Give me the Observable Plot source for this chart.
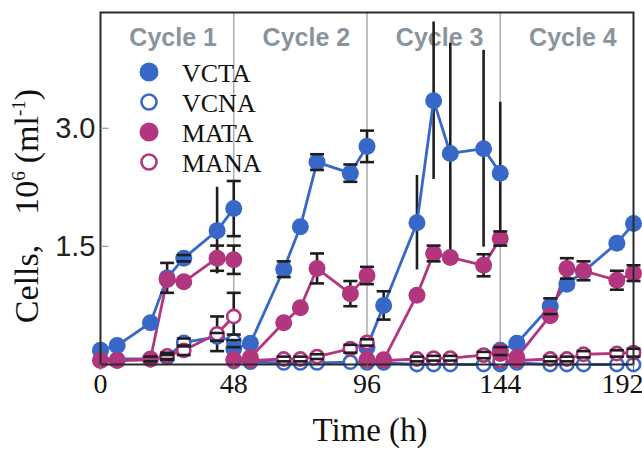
<!DOCTYPE html>
<html><head><meta charset="utf-8">
<script src="https://cdn.jsdelivr.net/npm/d3@7"></script>
<script src="https://cdn.jsdelivr.net/npm/@observablehq/plot@0.6"></script>
<style>body{margin:0;background:#fff;} #chart{width:642px;height:450px;}</style>
</head><body><div id="chart"></div>
<script>
// ---- data ----
const cycleNames = ["Cycle 1", "Cycle 2", "Cycle 3", "Cycle 4"];
const cycleMidpoints = [24, 72, 120, 168];
const cycleBoundaries = [48, 96, 144];
const xTicks = [0, 48, 96, 144, 192];
const yTicks = [1.5, 3.0];
const cycleTimes = [
  [0, 6, 18, 24, 30, 42, 48],
  [48, 54, 66, 72, 78, 90, 96],
  [96, 102, 114, 120, 126, 138, 144],
  [144, 150, 162, 168, 174, 186, 192]
];
const vcta = [
  [0.18, 0.24, 0.53, 1.10, 1.35, 1.70, 1.98],
  [0.20, 0.27, 1.21, 1.75, 2.57, 2.43, 2.77],
  [0.22, 0.75, 1.80, 3.35, 2.68, 2.74, 2.43],
  [0.18, 0.27, 0.74, 1.02, 1.18, 1.54, 1.79]
];
const vctaErr = [
  [0, 0, 0, 0.19, 0.04, 0.55, 0.35],
  [0, 0, 0.10, 0, 0.10, 0.11, 0.20],
  [0, 0.18, 0.60, 1.00, 1.40, 1.25, 0.90],
  [0, 0, 0.10, 0, 0, 0, 0]
];
const vcna = [
  [0.07, 0.07, 0.07, 0.09, 0.28, 0.35, 0.30],
  [0.04, 0.03, 0.02, 0.02, 0.02, 0.03, 0.03],
  [0.02, 0.02, 0.0, 0.0, 0.0, 0.0, 0.0],
  [0.02, 0.02, 0.0, 0.0, 0.0, 0.0, 0.0]
];
const vcnaErr = [
  [0, 0, 0, 0.03, 0.05, 0.05, 0.08],
  [0, 0, 0, 0, 0, 0, 0],
  [0, 0, 0, 0, 0, 0, 0],
  [0, 0, 0, 0, 0, 0, 0]
];
const mata = [
  [0.05, 0.05, 0.07, 1.08, 1.05, 1.35, 1.33],
  [0.06, 0.09, 0.53, 0.72, 1.22, 0.90, 1.13],
  [0.06, 0.06, 0.88, 1.41, 1.36, 1.26, 1.60],
  [0.14, 0.09, 0.62, 1.22, 1.19, 1.07, 1.16]
];
const mataErr = [
  [0, 0, 0.03, 0, 0, 0.16, 0.18],
  [0, 0, 0, 0, 0.19, 0.16, 0.11],
  [0, 0, 0, 0.10, 0, 0.14, 0.09],
  [0, 0, 0, 0.13, 0.12, 0.12, 0.10]
];
const mana = [
  [0.05, 0.05, 0.06, 0.11, 0.18, 0.39, 0.61],
  [0.05, 0.05, 0.07, 0.07, 0.10, 0.20, 0.28],
  [0.05, 0.05, 0.07, 0.08, 0.08, 0.12, 0.17],
  [0.05, 0.05, 0.07, 0.07, 0.13, 0.14, 0.15]
];
const manaErr = [
  [0, 0, 0, 0.04, 0.06, 0.22, 0.30],
  [0, 0, 0.03, 0.03, 0.03, 0.05, 0.04],
  [0, 0, 0.03, 0.03, 0.03, 0.04, 0.05],
  [0, 0, 0.03, 0.03, 0.04, 0.04, 0.05]
];

const BLUE = "#3768c8";
const MAGENTA = "#b2367e";

const seriesDefs = [
  {name: "VCNA", values: vcna, errs: vcnaErr, color: BLUE, filled: false},
  {name: "VCTA", values: vcta, errs: vctaErr, color: BLUE, filled: true},
  {name: "MANA", values: mana, errs: manaErr, color: MAGENTA, filled: false},
  {name: "MATA", values: mata, errs: mataErr, color: MAGENTA, filled: true}
];
const legendOrder = ["VCTA", "VCNA", "MATA", "MANA"];

function rowsOf(s) {
  const out = [];
  s.values.forEach((vals, c) => vals.forEach((v, i) => out.push({
    series: s.name, key: s.name + c, t: cycleTimes[c][i], v, e: s.errs[c][i]
  })));
  return out;
}
const allRows = seriesDefs.flatMap(rowsOf);
const errRows = allRows.filter(d => d.e > 0);
const capRows = errRows.filter(d => d.e < 0.5).flatMap(d => [{t: d.t, y: d.v - d.e}, {t: d.t, y: d.v + d.e}]);

const capSymbol = {draw(ctx, size) { const r = Math.sqrt(size / Math.PI); ctx.moveTo(-r, 0); ctx.lineTo(r, 0); }};
const inTick = {draw(ctx, size) { const r = Math.sqrt(size / Math.PI); ctx.moveTo(0, 0); ctx.lineTo(r, 0); }};

const serif = "Liberation Serif, Times New Roman, serif";
const lastTick = xTicks[xTicks.length - 1];

const marks = [
  Plot.ruleX(cycleBoundaries, {stroke: "#b0b0b0", strokeWidth: 1.6}),
  Plot.text(cycleNames, {x: (d, i) => cycleMidpoints[i], frameAnchor: "top", dy: 16, dx: 6,
    fontSize: 25, fontWeight: "bold", fontFamily: "Liberation Sans, Arial, sans-serif", fill: "#8a949e"}),
  Plot.ruleX(errRows, {x: "t", y1: d => d.v - d.e, y2: d => d.v + d.e, stroke: "#1e1e1e", strokeWidth: 2.6}),
];
for (const s of seriesDefs) {
  marks.push(Plot.line(rowsOf(s), {x: "t", y: "v", z: "key", stroke: s.color, strokeWidth: 2.8}));
}
for (const s of seriesDefs) {
  if (s.filled) marks.push(Plot.dot(rowsOf(s), {x: "t", y: "v", r: 8.5, fill: s.color, stroke: "none"}));
  else marks.push(Plot.dot(rowsOf(s), {x: "t", y: "v", r: 6.6, fill: "white", stroke: s.color, strokeWidth: 2.6}));
}
marks.push(Plot.dot(capRows, {x: "t", y: "y", symbol: capSymbol, r: 7, stroke: "#1e1e1e", strokeWidth: 2.6}));
marks.push(Plot.frame({stroke: "#2a2a2a", strokeWidth: 2}));
marks.push(Plot.dot(yTicks, {x: 0, y: d => d, symbol: inTick, r: 8, stroke: "#999", strokeWidth: 1.2}));
marks.push(Plot.axisY({ticks: yTicks, tickSize: 0, tickPadding: 5, tickFormat: d => d.toFixed(1),
  fontSize: 29, fontFamily: "Liberation Sans Narrow, Arial Narrow, Liberation Sans, sans-serif", fill: "#222", label: null}));
marks.push(Plot.axisX({ticks: xTicks, tickSize: 6, tickPadding: 3, stroke: "#777",
  tickFormat: d => d === lastTick ? "" : String(d),
  fontSize: 28, fontFamily: serif, fill: "#111", label: null}));
marks.push(Plot.text([lastTick], {x: d => d, frameAnchor: "bottom", dy: 9, dx: -11, lineAnchor: "top",
  fontSize: 28, fontFamily: serif, fill: "#111"}));

const chart = Plot.plot({
  width: 642, height: 450,
  marginLeft: 100, marginRight: 9, marginTop: 12, marginBottom: 86,
  x: {domain: [0, 192]},
  y: {domain: [0, 4.47]},
  style: {background: "white", overflow: "visible"},
  marks
});
document.getElementById("chart").appendChild(chart);

const svg = d3.select(chart);
// x title
svg.append("text").attr("x", 370).attr("y", 441).attr("text-anchor", "middle")
  .attr("font-family", serif).attr("font-size", 33).attr("fill", "#111")
  .text("Time (h)");
// y title
const yt = svg.append("text").attr("transform", "translate(38,206) rotate(-90)").attr("text-anchor", "middle")
  .attr("font-family", serif).attr("font-size", 34).attr("fill", "#111");
yt.append("tspan").text("Cells,");
yt.append("tspan").attr("dx", 30).text("10");
yt.append("tspan").attr("dy", -13).attr("font-size", 19).text("6");
yt.append("tspan").attr("dy", 13).attr("dx", 8).text("(ml");
yt.append("tspan").attr("dy", -13).attr("font-size", 19).text("-1");
yt.append("tspan").attr("dy", 13).text(")");
// legend
const lg = svg.append("g").attr("text-anchor", "start");
legendOrder.forEach((name, i) => {
  const s = seriesDefs.find(d => d.name === name);
  const cy = 72 + i * 30;
  if (s.filled) lg.append("circle").attr("cx", 149).attr("cy", cy).attr("r", 9.5).attr("fill", s.color);
  else lg.append("circle").attr("cx", 149).attr("cy", cy).attr("r", 7.5).attr("fill", "white").attr("stroke", s.color).attr("stroke-width", 2.6);
  lg.append("text").attr("x", 182).attr("y", cy + 10).attr("text-anchor", "start").attr("font-family", serif)
    .attr("font-size", 26).attr("fill", "#111").text(name);
});
</script>
</body></html>
